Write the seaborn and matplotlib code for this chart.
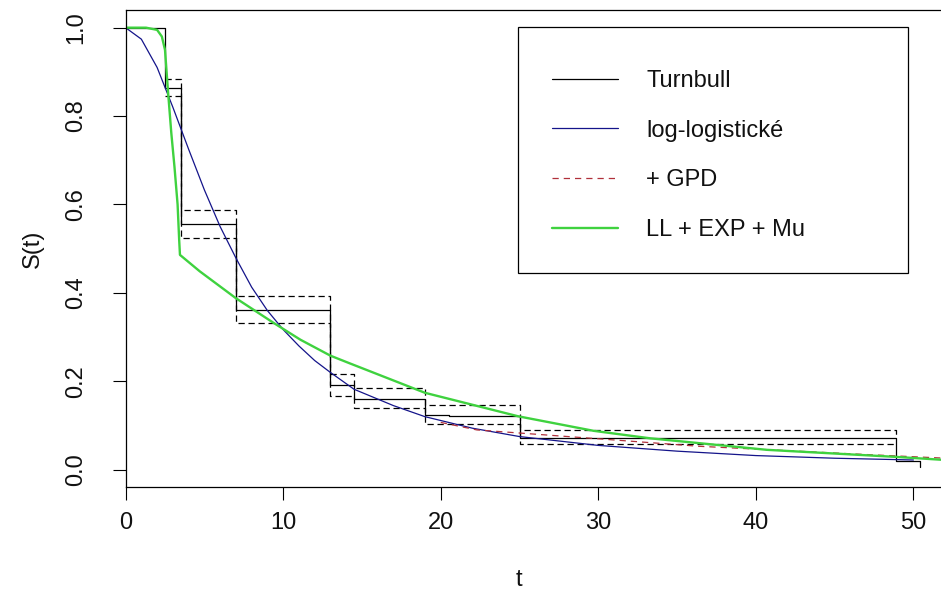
import matplotlib
matplotlib.use("Agg")
import matplotlib.pyplot as plt
from matplotlib.patches import Rectangle
import seaborn as sns

# ---- data ----
turnbull_t = [0.0, 2.5, 3.5, 7.0, 13.0, 14.5, 19.0, 20.5, 25.0, 48.9, 50.4]
turnbull_s = [1.0, 0.864, 0.557, 0.362, 0.191, 0.160, 0.124, 0.121, 0.072, 0.019, 0.007]

upper_t = [2.5, 3.5, 7.0, 13.0, 14.5, 19.0, 25.0, 48.9]
upper_s = [0.885, 0.588, 0.392, 0.216, 0.185, 0.146, 0.089, 0.075]

lower_t = [2.5, 3.5, 7.0, 13.0, 14.5, 19.0, 25.0, 48.9]
lower_s = [0.845, 0.524, 0.333, 0.167, 0.139, 0.104, 0.058, 0.058]

ll_t = [0, 1, 2, 3, 4, 5, 6, 7, 8, 9, 10, 11, 12, 13, 14.5, 17, 19, 22, 25, 30, 35, 40, 45, 50]
ll_s = [1.0, 0.974, 0.91, 0.82, 0.725, 0.633, 0.55, 0.479, 0.413, 0.36, 0.317, 0.28, 0.247,
        0.22, 0.182, 0.145, 0.12, 0.094, 0.075, 0.055, 0.042, 0.032, 0.026, 0.022]

gpd_t = [20.0, 22.3, 25.0, 30.0, 36.4, 41.5, 47.2, 51.75]
gpd_s = [0.107, 0.090, 0.083, 0.070, 0.053, 0.044, 0.034, 0.0265]

mix_t = [0, 1.3, 2.0, 2.3, 2.5, 2.7, 2.9, 3.1, 3.3, 3.4, 3.45, 4.7, 7.0, 9.4, 11.1, 13.0, 14.2,
         19.0, 24.9, 29.7, 33.3, 40.7, 48.9, 51.75]
mix_s = [1.0, 1.0, 0.995, 0.98, 0.95, 0.852, 0.762, 0.686, 0.60, 0.52, 0.486, 0.449, 0.388, 0.332,
         0.294, 0.258, 0.241, 0.174, 0.121, 0.088, 0.071, 0.045, 0.029, 0.0226]

labels = ["Turnbull", "log-logistické", "+ GPD", "LL + EXP + Mu"]
x_ticks = [0, 10, 20, 30, 40, 50]
y_ticks = [0.0, 0.2, 0.4, 0.6, 0.8, 1.0]

# ---- style ----
sns.set_style("white")
plt.rcParams["font.family"] = ["Liberation Sans", "DejaVu Sans"]
FS = 17

W, H = 941, 600
fig = plt.figure(figsize=(W / 100, H / 100), dpi=100)
left_px, top_px, bottom_px = 125.6, 10.0, 487.4
ax = fig.add_axes([left_px / W, (H - bottom_px) / H, (W - left_px) / W, (bottom_px - top_px) / H])


def line(x, y, **kw):
    sns.lineplot(x=x, y=y, ax=ax, estimator=None, sort=False, **kw)


line(turnbull_t, turnbull_s, color="black", lw=0.9, drawstyle="steps-post", label=labels[0])
line(upper_t, upper_s, color="black", lw=0.9, drawstyle="steps-post", dashes=False,
     linestyle=(0, (5, 3)), label="_nolegend_")
line(lower_t, lower_s, color="black", lw=0.9, drawstyle="steps-post", dashes=False,
     linestyle=(0, (5, 3)), label="_nolegend_")
line(ll_t, ll_s, color="#14148a", lw=0.9, label=labels[1])
line(gpd_t, gpd_s, color="#b0303a", lw=0.9, dashes=False, linestyle=(0, (5, 4)), label=labels[2])
line(mix_t, mix_s, color="#3fd23f", lw=1.7, label=labels[3])

ax.set_xlim(0, 51.75)
ax.set_ylim(-0.04, 1.04)
ax.set_xticks(x_ticks)
ax.set_xticklabels([str(v) for v in x_ticks])
ax.set_yticks(y_ticks)
ax.set_yticklabels([f"{v:.1f}" for v in y_ticks], rotation=90, va="center")
ax.tick_params(axis="both", which="both", direction="out", length=9.5, width=0.8,
               color="black", labelsize=FS, labelcolor="#111111", bottom=True, left=True)
ax.tick_params(axis="x", pad=8)
ax.tick_params(axis="y", pad=18)

for side in ["left", "bottom", "top"]:
    ax.spines[side].set_visible(True)
    ax.spines[side].set_color("black")
    ax.spines[side].set_linewidth(0.9)
ax.spines["right"].set_visible(False)

ax.set_xlabel("t", fontsize=FS, color="#111111")
ax.set_ylabel("S(t)", fontsize=FS, color="#111111")
ax.xaxis.label.set_va("center")
ax.yaxis.label.set_va("center")
ax.xaxis.set_label_coords(0.5 + (519 - (left_px + (W - left_px) / 2)) / (W - left_px),
                          -(580 - bottom_px) / (bottom_px - top_px))
ax.yaxis.set_label_coords(-(left_px - 33) / (W - left_px), 0.5)

# legend box (drawn inside the axes so the legend sits above it)
ax.add_patch(Rectangle((518 / W, 1 - 273 / H), 390 / W, 246 / H, transform=fig.transFigure,
                       facecolor="white", edgecolor="black", lw=0.9, zorder=3, clip_on=False))
handles, labs = ax.get_legend_handles_labels()
leg = ax.legend(handles, labs, loc="upper left", bbox_to_anchor=(552 / W, 1 - 70 / H),
                bbox_transform=fig.transFigure, frameon=False, borderpad=0, borderaxespad=0,
                handlelength=2.8, handletextpad=1.2, labelspacing=1.17, fontsize=FS)
leg.set_zorder(5)
for t in leg.get_texts():
    t.set_color("#111111")

fig.savefig("out.png", dpi=100)
